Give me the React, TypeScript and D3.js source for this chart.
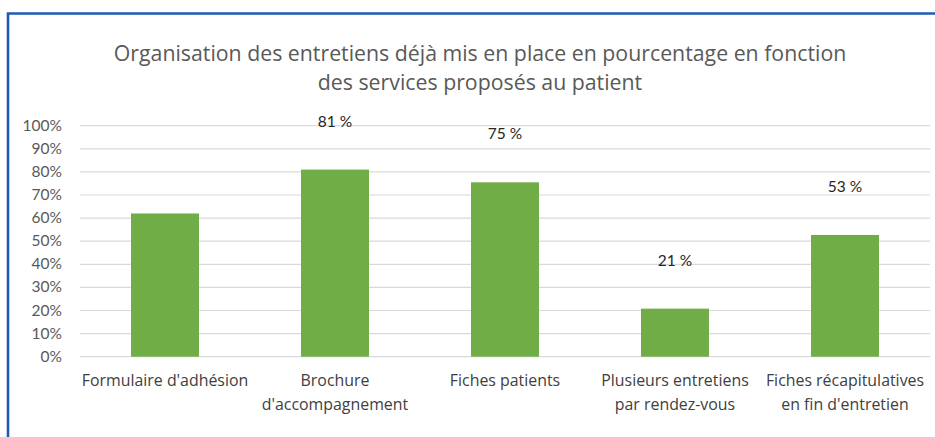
import React from "react";
import * as d3 from "d3";

const categories: string[][] = [
  ["Formulaire d'adhésion"],
  ["Brochure", "d'accompagnement"],
  ["Fiches patients"],
  ["Plusieurs entretiens", "par rendez-vous"],
  ["Fiches récapitulatives", "en fin d'entretien"],
];
const values: number[] = [0.62, 0.81, 0.755, 0.208, 0.527];
const valueLabels: (string | null)[] = [null, "81 %", "75 %", "21 %", "53 %"];
const yTicks: number[] = [0, 0.1, 0.2, 0.3, 0.4, 0.5, 0.6, 0.7, 0.8, 0.9, 1.0];
const titleLines: string[] = [
  "Organisation des entretiens déjà mis en place en pourcentage en fonction",
  "des services proposés au patient",
];

const W = 935;
const H = 437;
const FONT = "Lato, 'Open Sans', sans-serif";
const FONT2 = "'Open Sans', Lato, sans-serif";

export default function App() {
  const x = d3
    .scaleBand<number>()
    .domain(categories.map((_, i) => i))
    .range([80, 930])
    .paddingInner(0.6)
    .paddingOuter(0.3);
  const y = d3.scaleLinear().domain([0, 1]).range([356.7, 125.7]);
  const fmt = d3.format(".0%");

  return (
    <svg
      width={W}
      height={H}
      style={{ position: "absolute", left: 0, top: 0, background: "#fff" }}
      fontFamily={FONT}
    >
      <rect x={0} y={0} width={W} height={H} fill="#fff" />
      {/* border */}
      <path
        d={`M8,${H + 5} L8,13.5 L${W + 5},13.5`}
        fill="none"
        stroke="#1f5bb2"
        strokeWidth={2.6}
      />
      {/* title */}
      {titleLines.map((t, i) => (
        <text
          key={i}
          x={480}
          y={61 + i * 29}
          textAnchor="middle"
          fontSize={21.3}
          fontFamily={FONT2}
          fill="#595959"
        >
          {t}
        </text>
      ))}
      {/* gridlines */}
      {yTicks.map((t) => (
        <g key={t}>
          <line
            x1={80}
            x2={930}
            y1={y(t)}
            y2={y(t)}
            stroke="#d9d9d9"
            strokeWidth={1.2}
          />
          <text
            x={62}
            y={y(t) + 5}
            textAnchor="end"
            fontSize={15.5}
            fill="#595959"
          >
            {fmt(t)}
          </text>
        </g>
      ))}
      {/* bars */}
      {values.map((v, i) => (
        <rect
          key={i}
          x={x(i)}
          y={y(v)}
          width={x.bandwidth()}
          height={y(0) - y(v)}
          fill="#70ad47"
        />
      ))}
      {/* value labels */}
      {values.map((v, i) =>
        valueLabels[i] ? (
          <text
            key={i}
            x={(x(i) as number) + x.bandwidth() / 2}
            y={y(v) - 43}
            textAnchor="middle"
            fontSize={15.5}
            fill="#262626"
          >
            {valueLabels[i]}
          </text>
        ) : null
      )}
      {/* category labels */}
      {categories.map((lines, i) => (
        <text
          key={i}
          x={(x(i) as number) + x.bandwidth() / 2}
          textAnchor="middle"
          fontSize={15.9}
          fontFamily={FONT2}
          fill="#404040"
        >
          {lines.map((l, j) => (
            <tspan key={j} x={(x(i) as number) + x.bandwidth() / 2} y={386 + j * 24}>
              {l}
            </tspan>
          ))}
        </text>
      ))}
    </svg>
  );
}
